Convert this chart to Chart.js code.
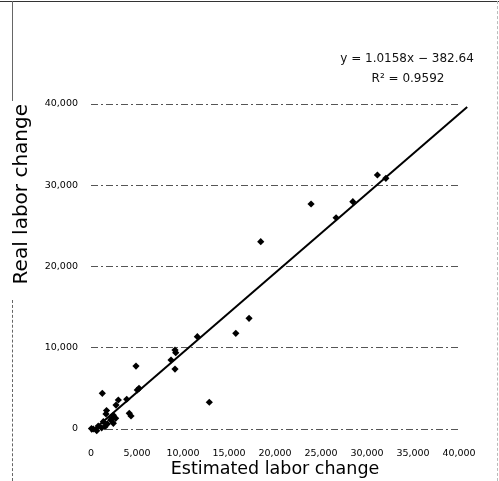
<!DOCTYPE html>
<html>
<head>
<meta charset="utf-8">
<script src="https://cdn.jsdelivr.net/npm/chart.js@4"></script>
<style>
    body { margin: 0; background: #fff; }
    #wrap { position: relative; width: 499px; height: 481px; }
    #wrap canvas { position: absolute; left: 0; top: 0; }
    .frameTop { position: absolute; left: 0; top: 1px; width: 499px; height: 0; border-top: 1px solid #333; }
    .frameLeftA { position: absolute; left: 12px; top: 1px; width: 0; height: 100px; border-left: 1px solid #666; }
    .frameLeftB { position: absolute; left: 12px; top: 300px; width: 0; height: 181px; border-left: 1px dashed #666; }
    .frameRight { position: absolute; left: 497px; top: 1px; width: 0; height: 480px; border-left: 1px dashed #bbb; }
</style>
</head>
<body>
<div id="wrap">
    <div class="frameTop"></div>
    <div class="frameLeftA"></div>
    <div class="frameLeftB"></div>
    <div class="frameRight"></div>
    <canvas id="scatterChart" width="499" height="481"></canvas>
</div>
<script>
// values
const estimatedChange = [40890, 31130, 32050, 28460, 26640, 23920, 18450, 17180, 15740, 11560,
    9130, 9210, 8700, 9130, 4890, 5220, 5030, 12860, 1230, 3880,
    2970, 4160, 4350, 1690, 2720, 1630, 2250, 1340, 2430, 790,
    1520, 250, 50, 620, 1160, 2430, 2140, 1770, 2680];
const realChange = [39630, 31260, 30850, 27980, 26000, 27690, 23050, 13620, 11780, 11360,
    9720, 9390, 8490, 7380, 7750, 5010, 4800, 3290, 4390, 3660,
    3570, 1930, 1600, 2280, 2950, 1850, 1320, 900, 700, 370,
    280, 0, 50, -200, 150, 1690, 1110, 620, 1320];

// ends of the fitted line as drawn
const trendX = [0, 40890];
const trendY = [-380, 39630];

const xTicks = [0, 5000, 10000, 15000, 20000, 25000, 30000, 35000, 40000];
const yTicks = [0, 10000, 20000, 30000, 40000];

const equationLines = ['y = 1.0158x \u2212 382.64', 'R\u00b2 = 0.9592'];

const fontName = '"DejaVu Sans", sans-serif';

const equationLabel = {
    id: 'equationLabel',
    afterDraw(chart) {
        const {ctx, chartArea} = chart;
        ctx.save();
        ctx.fillStyle = '#111';
        ctx.font = '12px ' + fontName;
        ctx.textAlign = 'center';
        ctx.textBaseline = 'middle';
        ctx.fillText(equationLines[0], chartArea.right - 52, chartArea.top - 45);
        ctx.fillText(equationLines[1], chartArea.right - 51, chartArea.top - 25);
        ctx.restore();
    }
};

const ctx = document.getElementById('scatterChart');

new Chart(ctx, {
    type: 'scatter',
    data: {
        datasets: [{
            label: 'Cases',
            data: estimatedChange.map((x, i) => ({x: x, y: realChange[i]})),
            pointStyle: 'rectRot',
            pointRadius: 3.6,
            backgroundColor: '#000',
            borderColor: '#000',
            borderWidth: 0,
            clip: false
        }, {
            type: 'line',
            label: 'Linear',
            data: trendX.map((x, i) => ({x: x, y: trendY[i]})),
            borderColor: '#000',
            borderWidth: 2,
            pointRadius: 0,
            fill: false,
            clip: false
        }]
    },
    options: {
        responsive: false,
        animation: false,
        layout: {
            padding: {left: 0, right: 40, top: 104, bottom: 0}
        },
        plugins: {
            legend: {display: false},
            tooltip: {enabled: false}
        },
        scales: {
            x: {
                type: 'linear',
                min: 0,
                max: 40000,
                afterBuildTicks: axis => { axis.ticks = xTicks.map(v => ({value: v})); },
                afterFit: axis => { axis.height = 52; },
                grid: {display: false},
                border: {display: false},
                ticks: {
                    padding: 11,
                    color: '#000',
                    font: {family: fontName, size: 9.5},
                    callback: v => v.toLocaleString('en-US')
                },
                title: {
                    display: true,
                    text: 'Estimated labor change',
                    color: '#000',
                    font: {family: fontName, size: 17.5},
                    padding: {top: 0, bottom: 1}
                }
            },
            y: {
                type: 'linear',
                min: 0,
                max: 40000,
                afterBuildTicks: axis => { axis.ticks = yTicks.map(v => ({value: v})); },
                afterFit: axis => { axis.width = 91; },
                grid: {
                    color: '#555',
                    lineWidth: 1,
                    drawTicks: false
                },
                border: {display: false, dash: [7, 3, 2, 3]},
                ticks: {
                    padding: 13,
                    color: '#000',
                    font: {family: fontName, size: 9.5},
                    callback: v => v.toLocaleString('en-US')
                },
                title: {
                    display: true,
                    text: 'Real labor change',
                    align: 'end',
                    color: '#000',
                    font: {family: fontName, size: 20},
                    padding: {top: 10, bottom: 0}
                }
            }
        }
    },
    plugins: [equationLabel]
});
</script>
</body>
</html>
